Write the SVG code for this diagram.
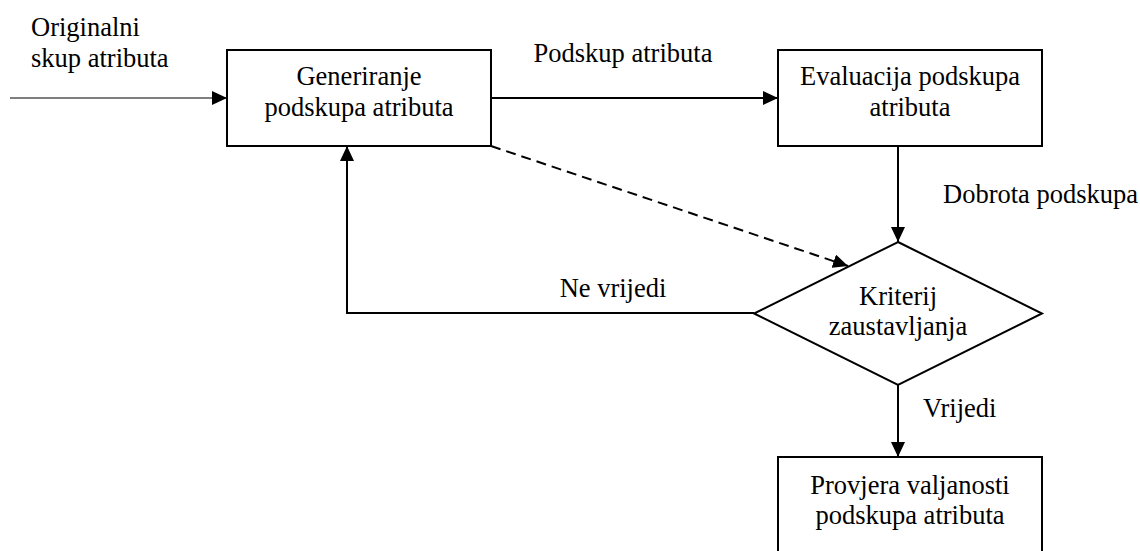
<svg xmlns="http://www.w3.org/2000/svg" width="1140" height="551" viewBox="0 0 1140 551">
  <style>
    .box { fill: #ffffff; stroke: #000000; stroke-width: 2; }
    .lbl { font-family: "Liberation Serif", "Times New Roman", serif; font-size: 26.5px; fill: #000000; }
    .mid { text-anchor: middle; }
    .edge { fill: none; stroke: #000000; stroke-width: 2; }
    .thin { stroke-width: 1.2; }
    .dash { stroke-dasharray: 10 6; }
  </style>
  <defs>
    <marker id="head" viewBox="0 0 15 14" refX="15" refY="7" markerWidth="15" markerHeight="14" markerUnits="userSpaceOnUse" orient="auto">
      <path d="M0,0 L15,7 L0,14 z" fill="#000000"/>
    </marker>
  </defs>

  <rect width="1140" height="551" fill="#ffffff"/>

  <!-- connectors -->
  <g id="connectors">
    <line class="edge thin" x1="10" y1="98" x2="227" y2="98" marker-end="url(#head)"/>
    <line class="edge" x1="491" y1="98" x2="778" y2="98" marker-end="url(#head)"/>
    <line class="edge" x1="898" y1="146" x2="898" y2="242" marker-end="url(#head)"/>
    <line class="edge dash" x1="491" y1="146" x2="848" y2="266" marker-end="url(#head)"/>
    <polyline class="edge" points="754,313 347,313 347,146" marker-end="url(#head)"/>
    <line class="edge" x1="898" y1="385" x2="898" y2="457" marker-end="url(#head)"/>
    <text class="lbl" x="31" y="36">Originalni</text>
    <text class="lbl" x="31" y="67">skup atributa</text>
    <text class="lbl mid" x="623" y="62">Podskup atributa</text>
    <text class="lbl" x="943" y="203">Dobrota podskupa</text>
    <text class="lbl mid" x="613" y="297">Ne vrijedi</text>
    <text class="lbl" x="923" y="417">Vrijedi</text>
  </g>

  <!-- nodes -->
  <g id="generiranje">
    <rect class="box" x="227" y="50" width="264" height="96"/>
    <text class="lbl mid" x="359" y="85">Generiranje</text>
    <text class="lbl mid" x="359" y="116">podskupa atributa</text>
  </g>

  <g id="evaluacija">
    <rect class="box" x="778" y="50" width="264" height="96"/>
    <text class="lbl mid" x="910" y="85">Evaluacija podskupa</text>
    <text class="lbl mid" x="910" y="116">atributa</text>
  </g>

  <g id="kriterij">
    <polygon class="box" points="898,242 1042,313.5 898,385 754,313.5"/>
    <text class="lbl mid" x="898" y="305">Kriterij</text>
    <text class="lbl mid" x="898" y="335">zaustavljanja</text>
  </g>

  <g id="provjera">
    <rect class="box" x="778" y="457" width="264" height="98"/>
    <text class="lbl mid" x="910" y="494">Provjera valjanosti</text>
    <text class="lbl mid" x="910" y="524">podskupa atributa</text>
  </g>
</svg>
